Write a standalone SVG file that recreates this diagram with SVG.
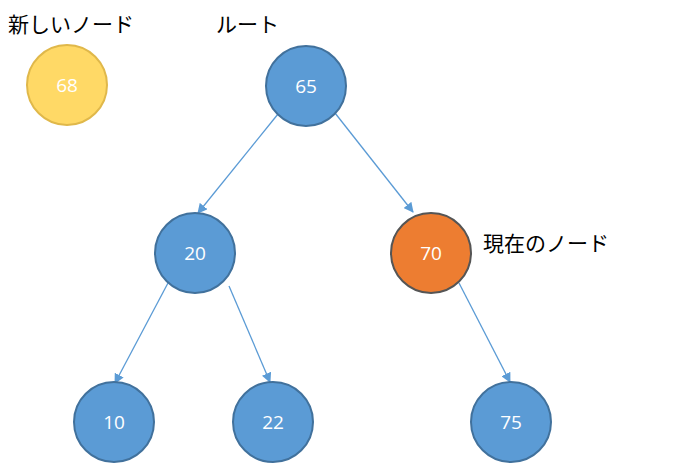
<svg xmlns="http://www.w3.org/2000/svg" width="679" height="463" viewBox="0 0 679 463">
<style>
.n{fill:#5b9bd5;stroke:#41719c;stroke-width:2}
.t{font-family:"Open Sans","Liberation Sans",sans-serif;font-size:19px;fill:#fff;text-anchor:middle}
.l{font-family:"Noto Sans CJK JP",sans-serif;font-size:21px;fill:#000}
.e{stroke:#5b9bd5;stroke-width:1.3;fill:none;marker-end:url(#a)}
</style>
<defs><marker id="a" markerWidth="10" markerHeight="10" refX="9" refY="5" orient="auto" markerUnits="userSpaceOnUse" viewBox="0 0 10 10"><path d="M0,0L10,5L0,10z" fill="#5b9bd5"/></marker></defs>
<rect width="679" height="463" fill="#fff"/>
<g id="edges">
<line class="e" x1="278" y1="114" x2="198" y2="213"/>
<line class="e" x1="335" y1="113" x2="413" y2="212"/>
<line class="e" x1="168" y1="283" x2="115" y2="383"/>
<line class="e" x1="229" y1="286" x2="270" y2="382"/>
<line class="e" x1="459" y1="283" x2="510" y2="382"/>
</g>
<g id="new"><circle cx="67" cy="85" r="40" fill="#ffd966" stroke="#e0b84a" stroke-width="2"/><text class="t" x="67" y="92">68</text></g>
<g id="n65"><circle class="n" cx="306" cy="86" r="40"/><text class="t" x="306" y="93">65</text></g>
<g id="n20"><circle class="n" cx="195" cy="253" r="40"/><text class="t" x="195" y="260">20</text></g>
<g id="n70"><circle cx="431" cy="253" r="40" fill="#ed7d31" stroke="#555" stroke-width="2"/><text class="t" x="431" y="260">70</text></g>
<g id="n10"><circle class="n" cx="114" cy="422" r="40"/><text class="t" x="114" y="429">10</text></g>
<g id="n22"><circle class="n" cx="273" cy="422" r="40"/><text class="t" x="273" y="429">22</text></g>
<g id="n75"><circle class="n" cx="511" cy="422" r="40"/><text class="t" x="511" y="429">75</text></g>
<g id="labels">
<text class="l" x="8" y="32">新しいノード</text>
<text class="l" x="216" y="32">ルート</text>
<text class="l" x="483" y="251">現在のノード</text>
</g>
</svg>
